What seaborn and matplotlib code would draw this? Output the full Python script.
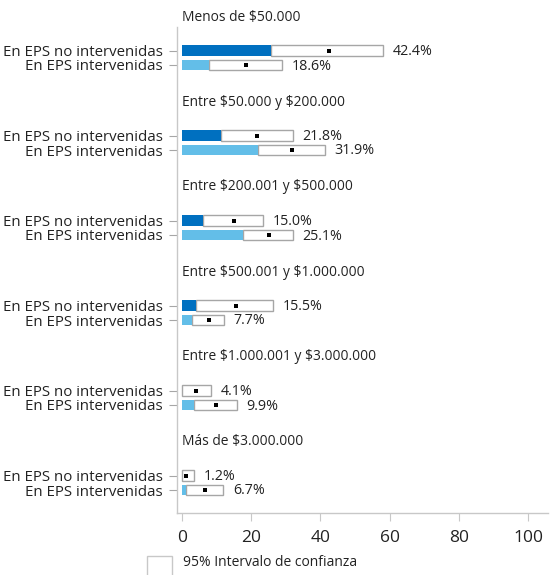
import matplotlib
matplotlib.use("Agg")
import matplotlib.pyplot as plt
import seaborn as sns
import pandas as pd
from matplotlib.patches import Rectangle

# --- Data (percent) ---
groups = ["Menos de $50.000", "Entre $50.000 y $200.000", "Entre $200.001 y $500.000",
          "Entre $500.001 y $1.000.000", "Entre $1.000.001 y $3.000.000", "Más de $3.000.000"]
series = ["En EPS no intervenidas", "En EPS intervenidas"]
no_interv_est = [42.4, 21.8, 15.0, 15.5, 4.1, 1.2]
no_interv_lo = [25.8, 11.2, 6.0, 4.1, 0.0, 0.0]
no_interv_hi = [58.2, 32.0, 23.5, 26.4, 8.4, 3.4]
interv_est = [18.6, 31.9, 25.1, 7.7, 9.9, 6.7]
interv_lo = [7.9, 21.9, 17.6, 2.9, 3.5, 1.2]
interv_hi = [29.0, 41.3, 32.0, 12.2, 15.9, 12.0]
x_ticks = [0, 20, 40, 60, 80, 100]

colors = ["#0070C0", "#63BEE8"]

rows = []
for g, grp in enumerate(groups):
    for s, (est, lo, hi) in enumerate([(no_interv_est, no_interv_lo, no_interv_hi),
                                        (interv_est, interv_lo, interv_hi)]):
        rows.append({"group": grp, "serie": series[s], "s": s,
                     "pos": g * 85 + 50.5 + s * 14.5,
                     "est": est[g], "lo": lo[g], "hi": hi[g]})
df = pd.DataFrame(rows)

sns.set_style("white")
plt.rcParams["font.family"] = ["Open Sans", "DejaVu Sans"]
plt.rcParams["text.parse_math"] = False

fig = plt.figure(figsize=(5.5, 5.75), dpi=100)
ax = fig.add_axes([177 / 550, 1 - 513 / 575, 371 / 550, 486 / 575])

bar_h = 10.5
# --- CI boxes (white with outline) ---
ax.barh(df["pos"], df["hi"] - df["lo"], left=df["lo"], height=bar_h,
        color="white", edgecolor="#A6A6A6", linewidth=1, zorder=2)
# --- Filled part up to lower CI ---
ax.barh(df["pos"], df["lo"], height=bar_h,
        color=[colors[s] for s in df["s"]], edgecolor="none", zorder=3)
# --- Point estimates ---
sns.scatterplot(data=df, x="est", y="pos", marker="s", color="black", s=8,
                linewidth=0, ax=ax, zorder=4)

for _, r in df.iterrows():
    ax.text(r["hi"] + 2.8, r["pos"] + 1, f"{r['est']:.1f}%", va="center", ha="left",
            fontsize=10.3, color="#222222")

for g, grp in enumerate(groups):
    ax.text(0, g * 85 + 17, grp, ha="left", va="center", fontsize=9.9,
            color="#222222", clip_on=False)

ax.set_xlim(-1.4, 105.7)
ax.set_ylim(513, 27)
ax.set_xticks(x_ticks)
ax.set_xticklabels([str(t) for t in x_ticks], fontsize=12.5, color="#222222")
ax.set_yticks(df["pos"])
ax.set_yticklabels(df["serie"], fontsize=10.8, color="#222222")
ax.set_xlabel("")
ax.set_ylabel("")

for side in ["top", "right"]:
    ax.spines[side].set_visible(False)
for side in ["left", "bottom"]:
    ax.spines[side].set_color("#C8C8C8")
    ax.spines[side].set_linewidth(1)
ax.tick_params(axis="y", left=True, length=6, color="#A6A6A6", pad=4)
ax.tick_params(axis="x", bottom=True, length=6, color="#C8C8C8", pad=6)

# --- Legend box ---
fig.patches.append(Rectangle((147 / 550, -0.01), 25 / 550, 25 / 575, transform=fig.transFigure,
                             facecolor="white", edgecolor="#C8C8C8", linewidth=1))
fig.text(183 / 550, 1 - 562 / 575, "95% Intervalo de confianza", fontsize=10,
         va="center", ha="left", color="#222222")

plt.savefig("out.png", dpi=100)
